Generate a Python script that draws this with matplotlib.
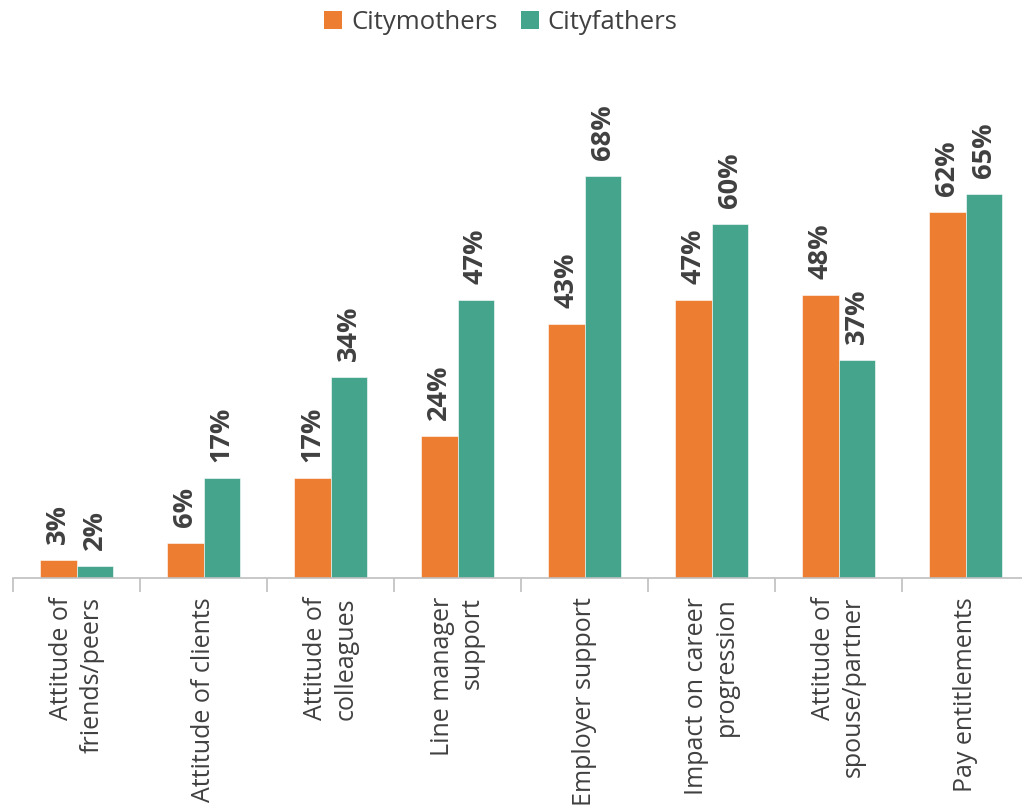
import matplotlib
matplotlib.use("Agg")
import matplotlib.pyplot as plt
import numpy as np
from matplotlib.patches import Patch
from matplotlib import transforms

plt.rcParams['font.family'] = ['Open Sans', 'DejaVu Sans']

categories = [
    "Attitude of\nfriends/peers",
    "Attitude of clients",
    "Attitude of\ncolleagues",
    "Line manager\nsupport",
    "Employer support",
    "Impact on career\nprogression",
    "Attitude of\nspouse/partner",
    "Pay entitlements",
]
series_names = ["Citymothers", "Cityfathers"]
citymothers = [3, 6, 17, 24, 43, 47, 48, 62]
cityfathers = [2, 17, 34, 47, 68, 60, 37, 65]

colors = ["#ED7D31", "#44A48C"]
text_color = "#404040"

fig = plt.figure(figsize=(10.22, 8.10), dpi=100)
ax = fig.add_axes([13 / 1022, (810 - 578) / 810, 1016 / 1022, (80 * 5.905) / 810])

x = np.arange(len(categories))
w = 0.287
bars_m = ax.bar(x - w / 2, citymothers, w, color=colors[0], edgecolor="white", linewidth=0.4)
bars_f = ax.bar(x + w / 2, cityfathers, w, color=colors[1], edgecolor="white", linewidth=0.4)

ax.set_xlim(-0.5, len(categories) - 0.5)
ax.set_ylim(0, 80)

# value labels, rotated, just above each bar
offset = transforms.offset_copy(ax.transData, fig=fig, x=0, y=16, units="dots")
for bars, vals in ((bars_m, citymothers), (bars_f, cityfathers)):
    for b, v in zip(bars, vals):
        ax.text(b.get_x() + b.get_width() / 2, v, f"{v}%", rotation=90,
                ha="center", va="bottom", fontsize=19.5, fontweight="bold",
                color=text_color, transform=offset, clip_on=False)

for s in ("left", "right", "top"):
    ax.spines[s].set_visible(False)
ax.spines["bottom"].set_color("#BFBFBF")
ax.spines["bottom"].set_linewidth(1.2)
ax.set_yticks([])

# category separators as ticks on the baseline
ax.set_xticks(np.arange(-0.5, len(categories) + 0.5, 1.0))
ax.set_xticklabels([])
ax.tick_params(axis="x", length=10, width=1.2, color="#BFBFBF", direction="out")

# category names below the axis
lab_trans = transforms.offset_copy(ax.get_xaxis_transform(), fig=fig, x=0, y=-19, units="dots")
for xi, name in zip(x, categories):
    ax.text(xi, 0, name, rotation=90, ha="center", va="top", multialignment="right",
            fontsize=18, color=text_color, transform=lab_trans, clip_on=False,
            linespacing=1.28)

handles = [Patch(facecolor=c, edgecolor="none") for c in colors]
fig.legend(handles, series_names, loc="upper center", bbox_to_anchor=(0.49, 1.0),
           borderaxespad=0.0, ncol=2, frameon=False, fontsize=18.5, handlelength=0.7,
           handleheight=0.7, handletextpad=0.35, columnspacing=0.9, labelcolor=text_color)

fig.savefig("out.png", dpi=100, facecolor="white")
